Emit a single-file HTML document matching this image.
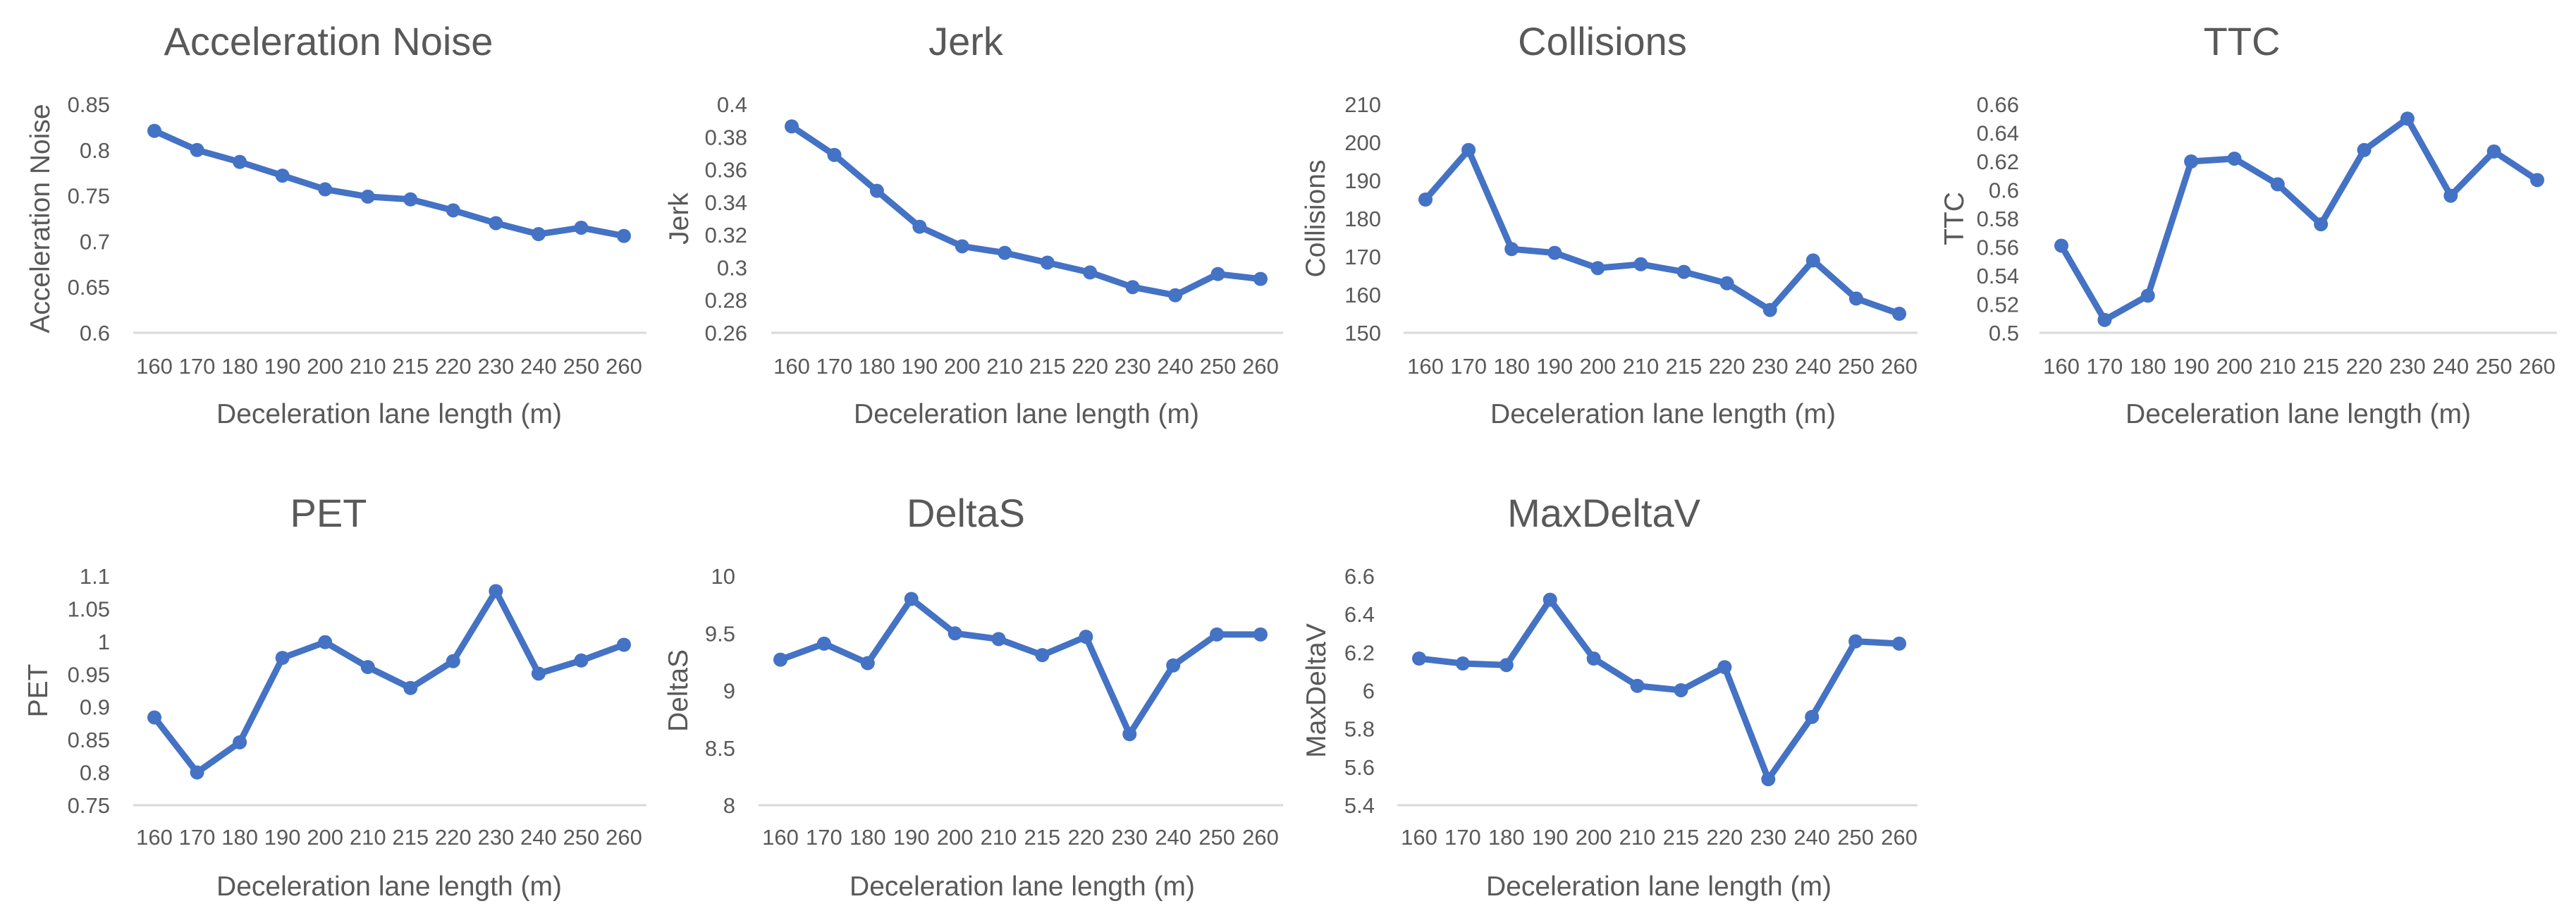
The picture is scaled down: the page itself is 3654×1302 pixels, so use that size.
<!DOCTYPE html>
<html><head><meta charset="utf-8"><style>
html,body{margin:0;padding:0;background:#fff;}
svg{display:block;}
text{font-family:"Liberation Sans",sans-serif;fill:#595959;}
</style></head><body>
<svg id="root" width="3654" height="1302" viewBox="0 0 3654 1302"></svg>
<script>
const categories=["160","170","180","190","200","210","215","220","230","240","250","260"];
const accNoise=[0.821,0.800,0.787,0.772,0.757,0.749,0.746,0.734,0.720,0.708,0.715,0.706];
const jerk=[0.3865,0.369,0.347,0.325,0.313,0.309,0.303,0.297,0.288,0.283,0.296,0.293];
const collisions=[185,198,172,171,167,168,166,163,156,169,159,155];
const ttc=[0.561,0.509,0.526,0.620,0.622,0.604,0.576,0.628,0.650,0.596,0.627,0.607];
const pet=[0.884,0.800,0.846,0.975,0.999,0.961,0.929,0.970,1.077,0.951,0.971,0.995];
const deltaS=[9.27,9.41,9.24,9.80,9.50,9.45,9.31,9.47,8.62,9.22,9.49,9.49];
const maxDeltaV=[6.168,6.142,6.134,6.476,6.168,6.025,6.002,6.123,5.536,5.862,6.258,6.246];
const accTicks=["0.6","0.65","0.7","0.75","0.8","0.85"];
const jerkTicks=["0.26","0.28","0.3","0.32","0.34","0.36","0.38","0.4"];
const collTicks=["150","160","170","180","190","200","210"];
const ttcTicks=["0.5","0.52","0.54","0.56","0.58","0.6","0.62","0.64","0.66"];
const petTicks=["0.75","0.8","0.85","0.9","0.95","1","1.05","1.1"];
const deltaSTicks=["8","8.5","9","9.5","10"];
const maxDVTicks=["5.4","5.6","5.8","6","6.2","6.4","6.6"];

const NS="http://www.w3.org/2000/svg";
const root=document.getElementById('root');
function mk(tag,attrs,parent){const e=document.createElementNS(NS,tag);for(const k in attrs)e.setAttribute(k,attrs[k]);parent.appendChild(e);return e;}

const panels=[
 {key:"acceleration-noise",title:"Acceleration Noise",vals:accNoise,ticks:accTicks,ax0:189,ax1:917,p0:219,p1:885,top:148,bot:472,tickR:156,titleX:466,titleY:58,xtX:552,ytX:56,xlY:519,xtY:586},
 {key:"jerk",title:"Jerk",vals:jerk,ticks:jerkTicks,ax0:1094,ax1:1820,p0:1123,p1:1788,top:148,bot:472,tickR:1060,titleX:1370,titleY:58,xtX:1456,ytX:962,xlY:519,xtY:586},
 {key:"collisions",title:"Collisions",vals:collisions,ticks:collTicks,ax0:1991,ax1:2720,p0:2022,p1:2694,top:148,bot:472,tickR:1959,titleX:2273,titleY:58,xtX:2359,ytX:1865,xlY:519,xtY:586},
 {key:"ttc",title:"TTC",vals:ttc,ticks:ttcTicks,ax0:2893,ax1:3627,p0:2924,p1:3599,top:148,bot:472,tickR:2864,titleX:3180,titleY:58,xtX:3260,ytX:2771,xlY:519,xtY:586},
 {key:"pet",title:"PET",vals:pet,ticks:petTicks,ax0:189,ax1:917,p0:219,p1:885,top:817,bot:1142,tickR:156,titleX:466,titleY:727,xtX:552,ytX:53,xlY:1187,xtY:1256},
 {key:"deltas",title:"DeltaS",vals:deltaS,ticks:deltaSTicks,ax0:1076,ax1:1820,p0:1107,p1:1788,top:817,bot:1142,tickR:1043,titleX:1370,titleY:727,xtX:1450,ytX:961,xlY:1187,xtY:1256},
 {key:"maxdeltav",title:"MaxDeltaV",vals:maxDeltaV,ticks:maxDVTicks,ax0:1982,ax1:2720,p0:2013,p1:2694,top:817,bot:1142,tickR:1950,titleX:2275,titleY:727,xtX:2353,ytX:1866,xlY:1187,xtY:1256}
];

panels.forEach(p=>{
  const g=mk('g',{},root);
  
  
  const tmin=parseFloat(p.ticks[0]),tmax=parseFloat(p.ticks[p.ticks.length-1]);
  const y=v=>p.bot-(v-tmin)/(tmax-tmin)*(p.bot-p.top);
  const x=i=>p.p0+i*(p.p1-p.p0)/(categories.length-1);
  const t=mk('text',{x:p.titleX,y:p.titleY+20,'text-anchor':'middle','font-size':56},g);
  t.textContent=p.title;
  
  
  const axis=mk('line',{x1:p.ax0,x2:p.ax1,y1:p.bot,y2:p.bot,stroke:'#d9d9d9','stroke-width':3},g);
  
  
  p.ticks.forEach(tk=>{
    const e=mk('text',{x:p.tickR,y:y(parseFloat(tk))+11,'text-anchor':'end','font-size':31},g);
    e.textContent=tk;
    
    
  });
  categories.forEach((c,i)=>{
    const e=mk('text',{x:x(i),y:p.xlY+11,'text-anchor':'middle','font-size':31},g);
    e.textContent=c;
    
    
  });
  const xt=mk('text',{x:p.xtX,y:p.xtY+14,'text-anchor':'middle','font-size':39},g);
  xt.textContent="Deceleration lane length (m)";
  
  
  const cy=(p.top+p.bot)/2;
  const yt=mk('text',{x:p.ytX+14,y:cy,'text-anchor':'middle','font-size':39,transform:`rotate(-90 ${p.ytX+14} ${cy})`},g);
  yt.textContent=p.title;
  
  
  const pts=p.vals.map((v,i)=>x(i)+','+y(v)).join(' ');
  const line=mk('polyline',{points:pts,fill:'none',stroke:'#4472C4','stroke-width':9,'stroke-linejoin':'round','stroke-linecap':'round'},g);
  
  
  p.vals.forEach((v,i)=>{
    const c=mk('circle',{cx:x(i),cy:y(v),r:10,fill:'#4472C4'},g);
    
    
  });
});
</script>
</body></html>
